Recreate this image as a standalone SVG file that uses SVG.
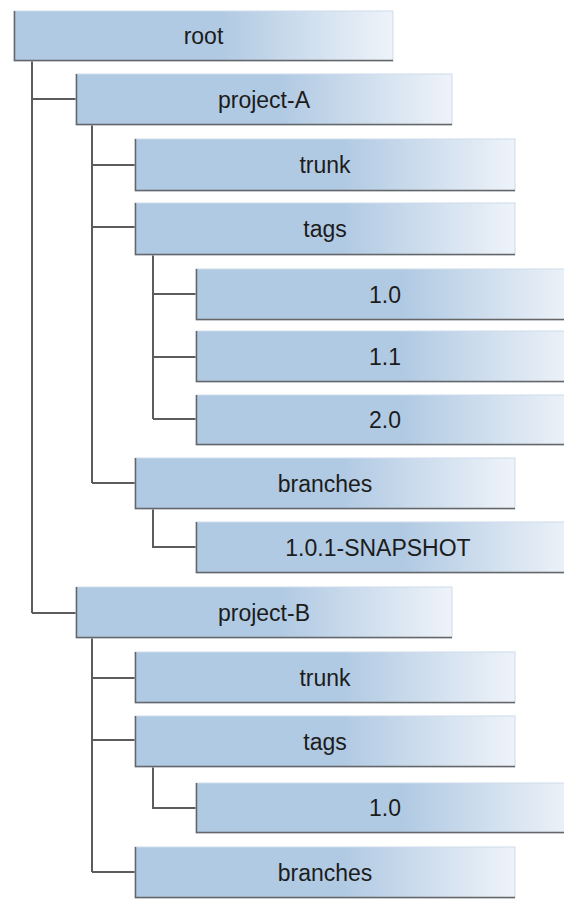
<svg xmlns="http://www.w3.org/2000/svg" width="564" height="899" viewBox="0 0 564 899">
<defs>
<linearGradient id="g" x1="0" y1="0" x2="1" y2="0">
<stop offset="0" stop-color="#b1cae3"/>
<stop offset="0.55" stop-color="#b1cae3"/>
<stop offset="1" stop-color="#eef3f9"/>
</linearGradient>
<style>
.box{fill:url(#g);stroke:#cddbeb;stroke-width:1}
.sh{fill:none;stroke:#666;stroke-width:1.5}
.lbl{font-family:"Liberation Sans",Arial,sans-serif;font-size:23px;fill:#1c1c1c;text-anchor:middle}
.con{fill:none;stroke:#5c5c5c;stroke-width:2}
</style>
</defs>
<rect width="564" height="899" fill="#fff"/>
<g id="connectors">
<path class="con" d="M32 61V613M32 99H76M32 613H76"/>
<path class="con" d="M92 125V483M92 165H135M92 227H135M92 483H135"/>
<path class="con" d="M153 255V419M153 294H196M153 357H196M153 419H196"/>
<path class="con" d="M153 509V547H196"/>
<path class="con" d="M92 638V872M92 678H135M92 740H135M92 872H135"/>
<path class="con" d="M153 767V808H196"/>
</g>
<g id="root"><rect class="box" x="14" y="11" width="379" height="50"/><path class="sh" d="M14.5 11V60.5H393"/><text class="lbl" x="203.5" y="44">root</text></g>
<g id="projectA"><rect class="box" x="76" y="74" width="376" height="51"/><path class="sh" d="M76.5 74V124.5H452"/><text class="lbl" x="264" y="107.5">project-A</text></g>
<g id="trunkA"><rect class="box" x="135" y="139" width="380" height="52"/><path class="sh" d="M135.5 139V190.5H515"/><text class="lbl" x="325" y="173">trunk</text></g>
<g id="tagsA"><rect class="box" x="135" y="203" width="380" height="52"/><path class="sh" d="M135.5 203V254.5H515"/><text class="lbl" x="325" y="237">tags</text></g>
<g id="tagA10"><rect class="box" x="196" y="269" width="378" height="51"/><path class="sh" d="M196.5 269V319.5H574"/><text class="lbl" x="385" y="302.5">1.0</text></g>
<g id="tagA11"><rect class="box" x="196" y="331" width="378" height="51"/><path class="sh" d="M196.5 331V381.5H574"/><text class="lbl" x="385" y="364.5">1.1</text></g>
<g id="tagA20"><rect class="box" x="196" y="395" width="378" height="50"/><path class="sh" d="M196.5 395V444.5H574"/><text class="lbl" x="385" y="428">2.0</text></g>
<g id="branchesA"><rect class="box" x="135" y="458" width="380" height="51"/><path class="sh" d="M135.5 458V508.5H515"/><text class="lbl" x="325" y="491.5">branches</text></g>
<g id="snapshot"><rect class="box" x="196" y="522" width="378" height="51"/><path class="sh" d="M196.5 522V572.5H574"/><text class="lbl" x="378" y="555.5">1.0.1-SNAPSHOT</text></g>
<g id="projectB"><rect class="box" x="76" y="587" width="376" height="51"/><path class="sh" d="M76.5 587V637.5H452"/><text class="lbl" x="264" y="620.5">project-B</text></g>
<g id="trunkB"><rect class="box" x="135" y="652" width="380" height="51"/><path class="sh" d="M135.5 652V702.5H515"/><text class="lbl" x="325" y="685.5">trunk</text></g>
<g id="tagsB"><rect class="box" x="135" y="716" width="380" height="51"/><path class="sh" d="M135.5 716V766.5H515"/><text class="lbl" x="325" y="749.5">tags</text></g>
<g id="tagB10"><rect class="box" x="196" y="783" width="378" height="50"/><path class="sh" d="M196.5 783V832.5H574"/><text class="lbl" x="385" y="816">1.0</text></g>
<g id="branchesB"><rect class="box" x="135" y="847" width="380" height="51"/><path class="sh" d="M135.5 847V897.5H515"/><text class="lbl" x="325" y="880.5">branches</text></g>
</svg>
